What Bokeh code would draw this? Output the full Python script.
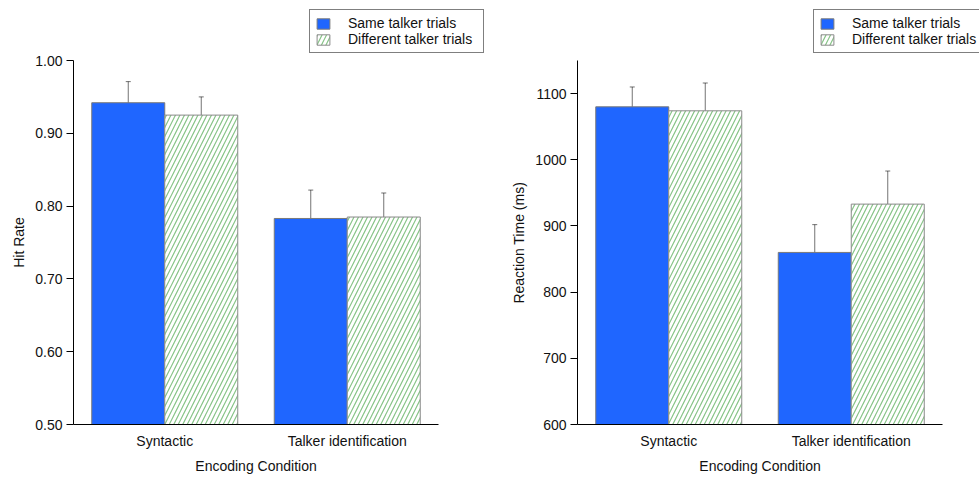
from bokeh.plotting import figure
from bokeh.models import (ColumnDataSource, Range1d, Whisker, TeeHead, Title,
                          Legend, LegendItem, FixedTicker, PrintfTickFormatter)
from bokeh.transform import dodge
from bokeh.layouts import row
from bokeh.embed import file_html
from bokeh.resources import INLINE

# ---- data ----
conditions = ["Syntactic", "Talker identification"]
series_names = ["Same talker trials", "Different talker trials"]
x_title = "Encoding Condition"

hit_same = [0.942, 0.783]
hit_same_err = [0.029, 0.039]
hit_diff = [0.925, 0.785]
hit_diff_err = [0.025, 0.033]

rt_same = [1080, 860]
rt_same_err = [30, 42]
rt_diff = [1074, 933]
rt_diff_err = [42, 50]

hit_ticks = [0.5, 0.6, 0.7, 0.8, 0.9, 1.0]
rt_ticks = [600, 700, 800, 900, 1000, 1100]

FONT = "Liberation Sans"
BLUE = "#1f66ff"
GREEN = "#86c386"
HEIGHT = 478
AXIS_PX = 364      # pixel height of the drawn value axis
TOP_EXTRA = 56     # room above the axis for the legend
BOTTOM = 54
CAT_PX = 182.5     # pixel width of one category slot
FS = 14

# Liberation Sans (Arial metrics) advance widths, em units
_W = {"E": .667, "n": .556, "c": .5, "o": .556, "d": .556, "i": .222, "g": .556,
      " ": .278, "C": .722, "t": .278, "H": .722, "R": .722, "a": .556, "e": .556,
      "T": .611, "m": .833, "(": .333, ")": .333, "s": .5}


def text_w(s):
    return sum(_W.get(ch, .556) for ch in s) * FS


def make_panel(same, same_err, diff, diff_err, ylo, yhi, ticks, fmt, ylabel,
               width, border_left):
    n = len(conditions)
    xpos = [i + 0.5 for i in range(n)]
    src = ColumnDataSource(dict(
        xpos=xpos, cond=conditions,
        same=same, diff=diff,
        same_lo=[v - e for v, e in zip(same, same_err)],
        same_hi=[v + e for v, e in zip(same, same_err)],
        diff_lo=[v - e for v, e in zip(diff, diff_err)],
        diff_hi=[v + e for v, e in zip(diff, diff_err)],
    ))
    frame_w = width - border_left
    x_end = frame_w / CAT_PX
    y_end = yhi + (yhi - ylo) * TOP_EXTRA / AXIS_PX
    p = figure(x_range=Range1d(0, x_end), y_range=Range1d(ylo, y_end),
               width=width, height=HEIGHT, output_backend="svg",
               toolbar_location=None, min_border_left=border_left,
               min_border_right=0, min_border_top=HEIGHT - BOTTOM - AXIS_PX - TOP_EXTRA,
               min_border_bottom=BOTTOM)
    p.outline_line_color = None
    p.grid.visible = False

    r1 = p.vbar(x=dodge("xpos", -0.2), top="same", bottom=ylo,
                width=0.4, source=src, fill_color=BLUE, line_color="#7a7a7a",
                line_width=1)
    r2 = p.vbar(x=dodge("xpos", 0.2), top="diff", bottom=ylo,
                width=0.4, source=src, fill_color="white", line_color="#8a8a8a",
                line_width=1, hatch_pattern="/", hatch_color=GREEN,
                hatch_scale=9, hatch_weight=1.2)

    for off, lo, hi in [(-0.2, "same_lo", "same_hi"), (0.2, "diff_lo", "diff_hi")]:
        w = Whisker(source=src, base=dodge("xpos", off), lower=lo, upper=hi,
                    line_color="black", line_alpha=0.55, line_width=1,
                    upper_head=TeeHead(size=5, line_color="black", line_alpha=0.55, line_width=1),
                    lower_head=TeeHead(size=5, line_color="black", line_alpha=0.55, line_width=1))
        p.add_layout(w)

    # axes
    p.xaxis.ticker = FixedTicker(ticks=xpos)
    p.xaxis.major_label_overrides = {x: c for x, c in zip(xpos, conditions)}
    p.xaxis.bounds = (0, n)
    p.xaxis.major_tick_line_color = None
    p.xaxis.major_tick_out = 0
    p.xaxis.major_tick_in = 0
    p.xaxis.minor_tick_line_color = None
    p.xaxis.major_label_standoff = 8
    p.yaxis.ticker = FixedTicker(ticks=ticks)
    p.yaxis.formatter = PrintfTickFormatter(format=fmt)
    p.yaxis.bounds = (ylo, yhi)
    p.yaxis.major_tick_in = 0
    p.yaxis.major_tick_out = 7
    p.yaxis.major_tick_line_color = "black"
    p.yaxis.minor_tick_line_color = None
    p.yaxis.major_label_standoff = 4
    for ax in (p.xaxis, p.yaxis):
        ax.axis_line_color = "black"
        ax.axis_line_width = 1
        ax.major_label_text_font = FONT
        ax.major_label_text_font_size = f"{FS}px"
        ax.major_label_text_color = "#111111"

    # axis titles centred on the drawn axes (the frame is larger than the axes)
    axis_w = n * CAT_PX
    xt = Title(text=x_title, align="left", offset=(axis_w - text_w(x_title)) / 2,
               standoff=8, text_font=FONT, text_font_size=f"{FS}px",
               text_font_style="normal", text_color="#111111")
    p.add_layout(xt, "below")
    yt = Title(text=ylabel, align="left", offset=(AXIS_PX - text_w(ylabel)) / 2,
               standoff=11, text_font=FONT, text_font_size=f"{FS}px",
               text_font_style="normal", text_color="#111111")
    p.add_layout(yt, "left")

    legend = Legend(items=[LegendItem(label=series_names[0], renderers=[r1]),
                           LegendItem(label=series_names[1], renderers=[r2])],
                    location=(236, AXIS_PX + 7))
    legend.label_text_font = FONT
    legend.label_text_font_size = f"{FS}px"
    legend.label_text_color = "#111111"
    legend.glyph_width = 16
    legend.glyph_height = 13
    legend.label_height = 15
    legend.label_width = 130
    legend.label_standoff = 17
    legend.spacing = 0
    legend.padding = 5
    legend.margin = 0
    legend.border_line_color = "black"
    legend.border_line_width = 1
    legend.background_fill_color = "white"
    legend.background_fill_alpha = 1
    p.add_layout(legend, "center")
    return p


p1 = make_panel(hit_same, hit_same_err, hit_diff, hit_diff_err, 0.5, 1.0,
                hit_ticks, "%.2f", "Hit Rate", 490, 73)
p2 = make_panel(rt_same, rt_same_err, rt_diff, rt_diff_err, 600, 1150,
                rt_ticks, "%d", "Reaction Time (ms)", 489, 87)

layout = row(p1, p2)
open("out.html", "w").write(file_html(layout, INLINE))
